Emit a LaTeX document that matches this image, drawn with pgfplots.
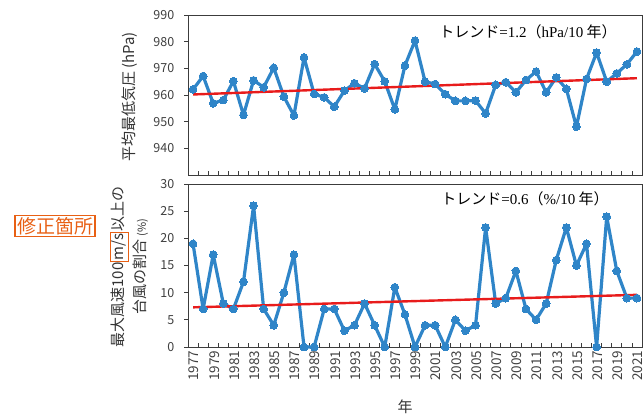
\documentclass[border=0pt]{standalone}
\usepackage{fontspec}
\setmainfont{Noto Sans CJK JP}
\newfontfamily\tnr{Liberation Serif}
\usepackage{pgfplots}
\pgfplotsset{compat=1.18}
\definecolor{lblue}{RGB}{47,133,200}
\definecolor{tred}{RGB}{232,28,28}
\definecolor{orng}{RGB}{232,96,20}
\definecolor{axgray}{RGB}{60,60,60}
\pgfplotsset{myax/.style={
  scale only axis, width=454pt, xmin=1976.5, xmax=2021.5,
  axis line style={axgray, line width=0.9pt},
  xtick={1977,1979,...,2021},
  major x tick style={draw=none},
  minor xtick={1976.5,1977.5,...,2021.5},
  minor x tick style={axgray, line width=0.8pt},
  minor tick length=4.5pt,
  xtick pos=bottom, ytick pos=left,
  major y tick style={axgray, line width=0.8pt},
  y tick style={/pgfplots/major tick length=4pt},
  ytick align=outside,
  tick label style={font=\fontsize{12.5}{14}\selectfont, text=black!75},
  /pgf/number format/assume math mode=true,
  /pgf/number format/1000 sep={},
  yticklabel style={xshift=-6pt},
  clip=false,
}}
\begin{document}
\begin{tikzpicture}
\path[use as bounding box] (0,0) rectangle (644pt,416pt);
\begin{axis}[myax, at={(188pt,241pt)}, anchor=south west, height=160pt,
  ymin=930, ymax=990, ytick={940,950,...,990}, xticklabels={}]
\addplot[lblue, line width=3.2pt, line join=round, mark=*, mark size=3.9pt, mark options={fill=lblue, draw=lblue, line width=0pt}] coordinates {
(1977,962.1)(1978,967.1)(1979,956.9)(1980,958.1)(1981,965.2)(1982,952.5)(1983,965.5)(1984,962.9)(1985,970.2)(1986,959.4)
(1987,952.3)(1988,974.1)(1989,960.4)(1990,959.1)(1991,955.6)(1992,961.6)(1993,964.4)(1994,962.5)(1995,971.6)(1996,965.1)
(1997,954.6)(1998,971.0)(1999,980.4)(2000,965.0)(2001,964.1)(2002,960.3)(2003,957.8)(2004,957.8)(2005,957.9)(2006,953.1)
(2007,963.8)(2008,964.8)(2009,961.0)(2010,965.6)(2011,968.8)(2012,961.0)(2013,966.6)(2014,962.3)(2015,948.1)(2016,966.0)
(2017,975.9)(2018,965.0)(2019,968.1)(2020,971.5)(2021,976.3)};
\addplot[tred, line width=2.4pt] coordinates {(1977,960.2)(2021,966.3)};
\end{axis}
\begin{axis}[myax, at={(188pt,69pt)}, anchor=south west, height=163pt,
  ymin=0, ymax=30, ytick={0,5,...,30},
  xticklabel style={rotate=90, anchor=east, font=\fontsize{13.5}{15}\selectfont, yshift=-1pt}]
\addplot[lblue, line width=3.2pt, line join=round, mark=*, mark size=3.9pt, mark options={fill=lblue, draw=lblue, line width=0pt}] coordinates {
(1977,19)(1978,7)(1979,17)(1980,8)(1981,7)(1982,12)(1983,26)(1984,7)(1985,4)(1986,10)
(1987,17)(1988,0)(1989,0)(1990,7)(1991,7)(1992,3)(1993,4)(1994,8)(1995,4)(1996,0)
(1997,11)(1998,6)(1999,0)(2000,4)(2001,4)(2002,0)(2003,5)(2004,3)(2005,4)(2006,22)
(2007,8)(2008,9)(2009,14)(2010,7)(2011,5)(2012,8)(2013,16)(2014,22)(2015,15)(2016,19)
(2017,0)(2018,24)(2019,14)(2020,9)(2021,9)};
\addplot[tred, line width=2.4pt] coordinates {(1977,7.3)(2021,9.6)};
\end{axis}
% annotations
\node[font=\fontsize{15}{17}\selectfont] at (528pt,384pt) {トレンド{\tnr=1.2}（{\tnr hPa/10} 年）};
\node[font=\fontsize{15}{17}\selectfont] at (525pt,217pt) {トレンド{\tnr=0.6}（{\tnr\%/10} 年）};
\node[rotate=90, font=\fontsize{15}{17}\selectfont, text=black!80] at (130pt,319pt) {平均最低気圧 (hPa)};
\node[rotate=90, font=\fontsize{15}{22}\selectfont, text=black!80, align=center] at (129pt,149pt)
  {最大風速100{\setlength{\fboxsep}{1pt}\setlength{\fboxrule}{1pt}\fcolorbox{orng}{white}{m/s}}以上の\\台風の割合 {\fontsize{11}{12}\selectfont(\%)}};
\node[draw=orng, line width=1.3pt, text=orng, inner sep=2pt, font=\fontsize{19}{21}\selectfont] at (55pt,190pt) {修正箇所};
\node[font=\fontsize{15}{17}\selectfont, text=black!80] at (405pt,9pt) {年};
\end{tikzpicture}
\end{document}
